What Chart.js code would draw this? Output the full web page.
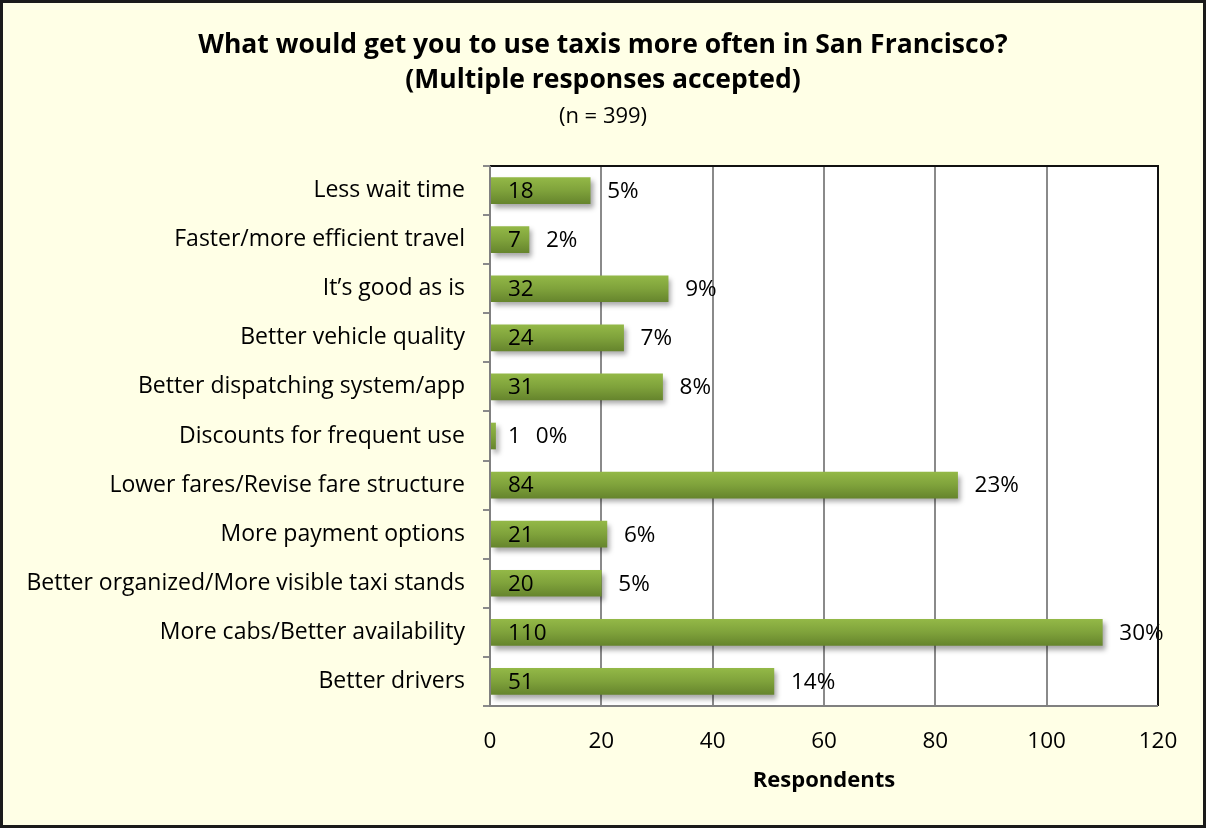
<!DOCTYPE html>
<html>
<head>
<meta charset="utf-8">
<script src="https://cdn.jsdelivr.net/npm/chart.js@4"></script>
<style>
  html, body { margin: 0; padding: 0; background: #FFFFE6; }
  #wrap { width: 1206px; height: 828px; position: relative; }
</style>
</head>
<body>
<div id="wrap"><canvas id="taxiChart"></canvas></div>
<script>
// chart data
const reasons = [
  "Less wait time",
  "Faster/more efficient travel",
  "It\u2019s good as is",
  "Better vehicle quality",
  "Better dispatching system/app",
  "Discounts for frequent use",
  "Lower fares/Revise fare structure",
  "More payment options",
  "Better organized/More visible taxi stands",
  "More cabs/Better availability",
  "Better drivers"
];
const respondents = [18, 7, 32, 24, 31, 1, 84, 21, 20, 110, 51];
const percentLabels = ["5%", "2%", "9%", "7%", "8%", "0%", "23%", "6%", "5%", "30%", "14%"];
const xTicks = [0, 20, 40, 60, 80, 100, 120];

const titleLines = [
  "What would get you to use taxis more often in San Francisco?",
  "(Multiple responses accepted)"
];
const subTitle = "(n = 399)";

const FONT = "'Open Sans', 'Noto Sans', sans-serif";

// background, outer border and title text
const frame = {
  id: "frame",
  beforeDraw(chart) {
    const c = chart.ctx;
    c.save();
    c.fillStyle = "#FFFFE6";
    c.fillRect(0, 0, chart.width, chart.height);
    c.strokeStyle = "#1a1a1a";
    c.lineWidth = 3;
    c.strokeRect(1.5, 1.5, chart.width - 3, chart.height - 3);
    // plot area
    const a = chart.chartArea;
    c.fillStyle = "#ffffff";
    c.fillRect(a.left, a.top, a.right - a.left, a.bottom - a.top);
    c.restore();
  },
  afterDraw(chart) {
    const c = chart.ctx;
    const a = chart.chartArea;
    c.save();
    c.fillStyle = "#000";
    c.textAlign = "center";
    c.textBaseline = "middle";
    c.font = "bold 26.5px " + FONT;
    c.fillText(titleLines[0], 603, 45);
    c.fillText(titleLines[1], 603, 80);
    c.font = "22px " + FONT;
    c.fillText(subTitle, 603, 117);
    // plot border: dark top/right, grey left/bottom
    c.lineWidth = 2;
    c.strokeStyle = "#111";
    c.beginPath();
    c.moveTo(a.left, a.top);
    c.lineTo(a.right, a.top);
    c.lineTo(a.right, a.bottom);
    c.stroke();
    c.strokeStyle = "#808080";
    c.beginPath();
    c.moveTo(a.left, a.top);
    c.lineTo(a.left, a.bottom);
    c.lineTo(a.right, a.bottom);
    c.stroke();
    c.restore();
  }
};

// soft shadow under bars
const barShadow = {
  id: "barShadow",
  beforeDatasetDraw(chart) {
    const c = chart.ctx;
    c.save();
    c.shadowColor = "rgba(0,0,0,0.35)";
    c.shadowOffsetX = 3;
    c.shadowOffsetY = 4;
    c.shadowBlur = 5;
  },
  afterDatasetDraw(chart) {
    chart.ctx.restore();
  }
};

// value inside the bar, percent after it
const barLabels = {
  id: "barLabels",
  afterDatasetsDraw(chart) {
    const c = chart.ctx;
    const meta = chart.getDatasetMeta(0);
    c.save();
    c.font = "22.5px " + FONT;
    c.fillStyle = "#000";
    c.textBaseline = "middle";
    c.textAlign = "left";
    meta.data.forEach((bar, i) => {
      const startX = bar.base + 17;
      const txt = String(respondents[i]);
      c.fillText(txt, startX, bar.y + 1);
      const endTxt = startX + c.measureText(txt).width;
      const px = Math.max(bar.x + 17, endTxt + 15);
      c.fillText(percentLabels[i], px, bar.y + 1);
    });
    c.restore();
  }
};

function barGradient(context) {
  const chart = context.chart;
  const yScale = chart.scales.y;
  if (!yScale || context.dataIndex === undefined) return "#7A9B38";
  const cy = yScale.getPixelForValue(context.dataIndex);
  if (!isFinite(cy)) return "#7A9B38";
  const g = chart.ctx.createLinearGradient(0, cy - 13, 0, cy + 13);
  g.addColorStop(0, "#93B847");
  g.addColorStop(0.5, "#7FA23B");
  g.addColorStop(1, "#66852D");
  return g;
}

new Chart(document.getElementById("taxiChart"), {
  type: "bar",
  data: {
    labels: reasons,
    datasets: [{
      label: "Respondents",
      data: respondents,
      backgroundColor: barGradient,
      borderWidth: 0,
      barThickness: 26
    }]
  },
  options: {
    indexAxis: "y",
    responsive: true,
    maintainAspectRatio: false,
    animation: false,
    layout: { padding: { top: 166, right: 48, bottom: 30, left: 0 } },
    plugins: {
      legend: { display: false },
      tooltip: { enabled: false }
    },
    scales: {
      x: {
        min: 0,
        max: 120,
        afterBuildTicks(scale) {
          scale.ticks = xTicks.map(v => ({ value: v }));
        },
        afterFit(scale) { scale.height = 92; },
        grid: { color: "#8a8a8a", lineWidth: 2, drawTicks: false },
        border: { display: false },
        ticks: { color: "#000", padding: 22, font: { family: FONT, size: 22.5 } },
        title: {
          display: true,
          text: "Respondents",
          color: "#000",
          padding: { top: 10 },
          font: { family: FONT, size: 22, weight: "bold" }
        }
      },
      y: {
        afterFit(scale) { scale.width = 490; },
        grid: { offset: true, drawOnChartArea: false, tickLength: 7, color: "#8a8a8a", lineWidth: 2 },
        border: { display: false },
        ticks: { color: "#000", padding: 18, autoSkip: false, font: { family: FONT, size: 23 } }
      }
    }
  },
  plugins: [frame, barShadow, barLabels]
});
</script>
</body>
</html>
